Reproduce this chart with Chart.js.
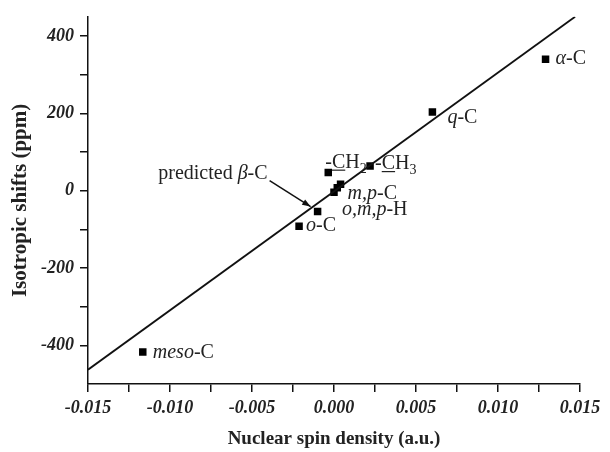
<!DOCTYPE html>
<html>
<head>
<meta charset="utf-8">
<script src="https://cdn.jsdelivr.net/npm/chart.js@4"></script>
<style>
  body { margin: 0; background: #fff; }
  #wrap { width: 610px; height: 452px; }
</style>
</head>
<body>
<div id="wrap"><canvas id="shiftChart"></canvas></div>
<script>
// Measured points (spin density vs isotropic shift)
const spinDensity = [0.0129, 0.0060, 0.0022, -0.00035, 0.0004, 0.0002, 0.0000, -0.0010, -0.00213, -0.01166];
const isoShift = [340, 204, 64, 47, 17, 8, -4, -54, -92, -417];

// Linear fit endpoints
const fitX = [-0.015, 0.0147];
const fitY = [-463, 450];

// Axis ticks
const xTickValues = [-0.015, -0.0125, -0.010, -0.0075, -0.005, -0.0025, 0, 0.0025, 0.005, 0.0075, 0.010, 0.0125, 0.015];
const yTickValues = [-400, -300, -200, -100, 0, 100, 200, 300, 400];

// Point annotations: index into data, text segments
const pointLabels = [
    { i: 0, segs: [{ t: 'α', it: true }, { t: '-C' }], dx: 10, dy: 5 },
    { i: 1, segs: [{ t: 'q', it: true }, { t: '-C' }], dx: 15, dy: 11 },
    { i: 2, segs: [{ t: '-' }, { t: 'C', u: true }, { t: 'H' }, { t: '3', sub: true }], dx: 5, dy: 3 },
    { i: 3, segs: [{ t: '-' }, { t: 'C', u: true }, { t: 'H' }, { t: '2', sub: true }], dx: -3, dy: -5 },
    { i: 4, segs: [{ t: 'm,p', it: true }, { t: '-C' }], dx: 7, dy: 15 },
    { i: 6, segs: [{ t: 'o,m,p', it: true }, { t: '-H' }], dx: 8, dy: 23 },
    { i: 7, segs: [{ t: 'predicted ' }, { t: 'β', it: true }, { t: '-C' }], dx: -50, dy: -33, align: 'right', arrow: true },
    { i: 8, segs: [{ t: 'o', it: true }, { t: '-C' }], dx: 7, dy: 5 },
    { i: 9, segs: [{ t: 'meso', it: true }, { t: '-C' }], dx: 10, dy: 6 }
];

const serif = '"Liberation Serif", "Times New Roman", serif';

function segFont(s) {
    return (s.it ? 'italic ' : '') + (s.sub ? 14 : 20) + 'px ' + serif;
}

function drawRich(ctx, segs, x, y, align) {
    let total = 0;
    segs.forEach(s => { ctx.font = segFont(s); total += ctx.measureText(s.t).width; });
    let cx = align === 'right' ? x - total : x;
    segs.forEach(s => {
        ctx.font = segFont(s);
        const w = ctx.measureText(s.t).width;
        ctx.fillText(s.t, cx, s.sub ? y + 5 : y);
        if (s.u) ctx.fillRect(cx, y + 2, w, 1.2);
        cx += w;
    });
}

const labelPlugin = {
    id: 'pointLabels',
    afterDatasetsDraw(chart) {
        const ctx = chart.ctx;
        const xs = chart.scales.x, ys = chart.scales.y;
        ctx.save();
        ctx.fillStyle = '#222';
        ctx.strokeStyle = '#111';
        ctx.textBaseline = 'alphabetic';
        ctx.textAlign = 'left';
        pointLabels.forEach(l => {
            const px = xs.getPixelForValue(spinDensity[l.i]);
            const py = ys.getPixelForValue(isoShift[l.i]);
            drawRich(ctx, l.segs, px + l.dx, py + l.dy, l.align);
            if (l.arrow) {
                const x0 = px + l.dx + 2, y0 = py + l.dy + 2;
                const x1 = px - 7, y1 = py - 5;
                ctx.lineWidth = 1.5;
                ctx.beginPath();
                ctx.moveTo(x0, y0);
                ctx.lineTo(x1, y1);
                ctx.stroke();
                const a = Math.atan2(y1 - y0, x1 - x0);
                ctx.beginPath();
                ctx.moveTo(x1, y1);
                ctx.lineTo(x1 - 9 * Math.cos(a - 0.35), y1 - 9 * Math.sin(a - 0.35));
                ctx.lineTo(x1 - 9 * Math.cos(a + 0.35), y1 - 9 * Math.sin(a + 0.35));
                ctx.closePath();
                ctx.fillStyle = '#111';
                ctx.fill();
                ctx.fillStyle = '#222';
            }
        });
        ctx.restore();
    }
};

const tickFont = { family: serif, size: 18, weight: 'bold', style: 'italic' };
const axisGrid = { drawOnChartArea: false, drawTicks: true, tickLength: 8, color: '#111', lineWidth: 1.5 };
const axisBorder = { display: true, color: '#111', width: 1.5 };

const points = spinDensity.map((x, k) => ({ x: x, y: isoShift[k] }));
const fitLine = fitX.map((x, k) => ({ x: x, y: fitY[k] }));

new Chart(document.getElementById('shiftChart'), {
    type: 'scatter',
    data: {
        datasets: [
            {
                label: 'fit',
                data: fitLine,
                showLine: true,
                borderColor: '#111',
                borderWidth: 1.8,
                pointRadius: 0
            },
            {
                label: 'data',
                data: points,
                pointStyle: 'rect',
                pointRadius: 5.3,
                backgroundColor: '#000',
                borderColor: '#000',
                borderWidth: 0
            }
        ]
    },
    options: {
        responsive: true,
        maintainAspectRatio: false,
        animation: false,
        layout: { padding: { top: 15, right: 30, left: 0, bottom: 0 } },
        plugins: { legend: { display: false }, tooltip: { enabled: false } },
        scales: {
            x: {
                type: 'linear',
                min: -0.015,
                max: 0.015,
                afterBuildTicks: s => { s.ticks = xTickValues.map(v => ({ value: v })); },
                afterFit: s => { s.height = 68; },
                ticks: {
                    color: '#222',
                    font: tickFont,
                    padding: 6,
                    maxRotation: 0,
                    autoSkip: false,
                    callback: (v, idx) => idx % 2 === 0 ? Number(v).toFixed(3) : ''
                },
                grid: axisGrid,
                border: axisBorder,
                title: { display: true, text: 'Nuclear spin density (a.u.)', color: '#222', font: { family: serif, size: 19, weight: 'bold' }, padding: { top: 0, bottom: 2 } }
            },
            y: {
                type: 'linear',
                min: -500,
                max: 450,
                afterBuildTicks: s => { s.ticks = yTickValues.map(v => ({ value: v })); },
                afterFit: s => { s.width = 88; },
                ticks: {
                    color: '#222',
                    font: tickFont,
                    padding: 6,
                    autoSkip: false,
                    callback: v => v % 200 === 0 ? String(v) : ''
                },
                grid: axisGrid,
                border: axisBorder,
                title: { display: true, text: 'Isotropic shifts (ppm)', color: '#222', font: { family: serif, size: 21, weight: 'bold' }, padding: { top: 8, bottom: 0 } }
            }
        }
    },
    plugins: [labelPlugin]
});
</script>
</body>
</html>
